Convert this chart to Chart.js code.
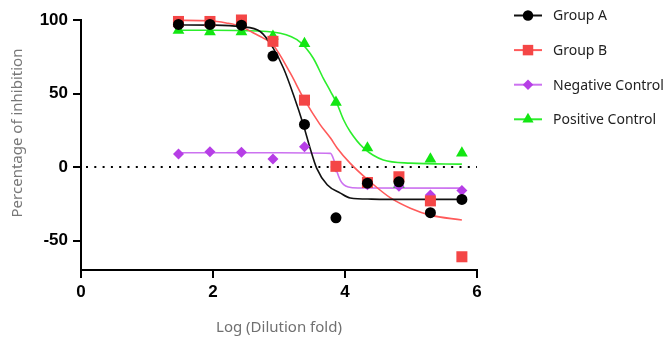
<!DOCTYPE html>
<html><head><meta charset="utf-8">
<script src="https://cdn.jsdelivr.net/npm/chart.js@4/dist/chart.umd.min.js"></script>
<style>html,body{margin:0;padding:0;background:#fff;}#wrap{width:667px;height:345px;position:relative;}</style>
</head><body><div id="wrap"><canvas id="c" width="667" height="345"></canvas></div>
<script>
// ---- data ----
const seriesNames = ['Group A', 'Group B', 'Negative Control', 'Positive Control'];
const logDilution = [1.477, 1.954, 2.431, 2.908, 3.386, 3.863, 4.340, 4.817, 5.294, 5.771];
const groupA = [97, 97, 96.5, 75.5, 29, -34.5, -11, -10, -31, -22];
const groupB = [99, 99, 100, 85.5, 45.5, 0.5, -10.5, -6.6, -23, -61];
const negativeControl = [8.8, 10.4, 10, 5.4, 13.8, 0, -12, -13, -19, -16];
const positiveControl = [93, 92, 92, 89, 84, 44, 13, -12, 5.4, 9.5];

// fitted curves
const fitAx = [1.477, 2.0, 2.41, 2.72, 2.91, 3.07, 3.22, 3.37, 3.47, 3.57, 3.73, 3.93, 4.08, 4.4, 5.0, 5.771];
const fitAy = [96.6, 96.5, 95.5, 92, 81, 67, 49, 28.6, 13, -0.7, -12, -17.7, -21, -21.8, -22, -22];
const fitBx = [1.477, 1.954, 2.2, 2.431, 2.6, 2.75, 2.91, 3.17, 3.37, 3.62, 3.78, 3.88, 4.08, 4.38, 4.69, 4.99, 5.29, 5.771];
const fitBy = [99.8, 99.5, 98, 95.5, 91.5, 88, 83, 64, 47, 29, 19.7, 13, 2.5, -10, -21, -28, -32.7, -36];
const fitNx = [1.477, 3.0, 3.78, 3.83, 3.88, 3.93, 3.98, 4.05, 4.2, 5.771];
const fitNy = [9.7, 9.7, 9.3, 5, -3.4, -9, -12, -13.6, -14.2, -14.3];
const fitPx = [1.477, 2.0, 2.431, 3.02, 3.32, 3.52, 3.67, 3.78, 3.88, 3.98, 4.08, 4.28, 4.58, 4.99, 5.771];
const fitPy = [93, 93, 92.8, 91, 85, 74, 60.5, 51.5, 43, 32, 24, 13, 4.8, 2.7, 2];

const xTicks = [0, 2, 4, 6];
const yTicks = [-50, 0, 50, 100];
const zeroLineX = [0, 6];

// ---- styles ----
const styles = [
  {marker: 'circle', fill: '#000000', line: '#111111', r: 5.5},
  {marker: 'rect', fill: '#F44646', line: '#FF5A5A', r: 7.8},
  {marker: 'rectRot', fill: '#B63EE6', line: '#CC72F0', r: 5.5},
  {marker: 'triangle', fill: '#12E612', line: '#2CEE2C', r: 6.8}
];
const pts = (xs, ys) => xs.map((x, i) => ({x: x, y: ys[i]}));
const pointSets = [groupA, groupB, negativeControl, positiveControl];
const fits = [[fitAx, fitAy], [fitBx, fitBy], [fitNx, fitNy], [fitPx, fitPy]];

const datasets = [];
pointSets.forEach((ys, i) => {
  const s = styles[i];
  datasets.push({
    label: seriesNames[i], data: pts(logDilution, ys), showLine: false,
    pointStyle: s.marker, pointRadius: s.r, pointHoverRadius: s.r,
    pointBackgroundColor: s.fill, pointBorderColor: s.fill, pointBorderWidth: 0,
    clip: false
  });
});
fits.forEach((f, i) => {
  const s = styles[i];
  datasets.push({
    label: seriesNames[i] + ' fit', data: pts(f[0], f[1]), showLine: true,
    borderColor: s.line, borderWidth: 1.6, pointRadius: 0, cubicInterpolationMode: 'monotone',
    fill: false, clip: false
  });
});
datasets.push({
  label: 'zero', data: zeroLineX.map(x => ({x: x, y: 0})), showLine: true,
  borderColor: '#000', borderWidth: 2, borderDash: [2, 6.3], borderDashOffset: -5, pointRadius: 0, fill: false
});

const legendPlugin = {
  id: 'sideLegend',
  afterDraw(chart) {
    const ctx = chart.ctx;
    ctx.save();
    seriesNames.forEach((name, i) => {
      const s = styles[i];
      const y = 15.5 + i * 34.6;
      ctx.strokeStyle = s.line; ctx.lineWidth = 2; ctx.setLineDash([]);
      ctx.beginPath(); ctx.moveTo(514, y); ctx.lineTo(542, y); ctx.stroke();
      ctx.fillStyle = s.fill;
      Chart.helpers.drawPoint(ctx, {pointStyle: s.marker, radius: s.r * 0.95, rotation: 0, borderWidth: 0}, 528, y);
      ctx.fillStyle = '#222';
      ctx.font = '14px "Noto Sans"';
      ctx.textBaseline = 'middle'; ctx.textAlign = 'left';
      ctx.fillText(name, 553, y + 1);
    });
    // y axis title
    ctx.translate(18, 133);
    ctx.rotate(-Math.PI / 2);
    ctx.fillStyle = '#777';
    ctx.font = '15px "Noto Sans"';
    ctx.textAlign = 'center'; ctx.textBaseline = 'middle';
    ctx.fillText('Percentage of inhibition', 0, 0);
    ctx.restore();
  }
};

new Chart(document.getElementById('c'), {
  type: 'scatter',
  data: {datasets: datasets},
  options: {
    responsive: false, animation: false, devicePixelRatio: 1,
    layout: {padding: {top: 20, right: 190, left: 0, bottom: 0}},
    plugins: {legend: {display: false}, tooltip: {enabled: false}},
    scales: {
      x: {
        type: 'linear', min: 0, max: 6,
        afterBuildTicks: (ax) => { ax.ticks = xTicks.map(v => ({value: v})); },
        afterFit: (ax) => { ax.height = 75; },
        grid: {display: true, drawOnChartArea: false, drawTicks: true, tickLength: 8, color: '#000', lineWidth: 2},
        border: {display: true, color: '#000', width: 2},
        ticks: {color: '#000', font: {family: '"Liberation Sans", Arial', size: 17, weight: 'bold'}, padding: 4, maxRotation: 0},
        title: {display: true, text: 'Log (Dilution fold)', color: '#707070', font: {family: '"Noto Sans"', size: 15}, padding: {top: 4, bottom: 8}}
      },
      y: {
        type: 'linear', min: -70, max: 100,
        afterBuildTicks: (ax) => { ax.ticks = yTicks.map(v => ({value: v})); },
        afterFit: (ax) => { ax.width = 81; },
        grid: {display: true, drawOnChartArea: false, drawTicks: true, tickLength: 8, color: '#000', lineWidth: 2},
        border: {display: true, color: '#000', width: 2},
        ticks: {color: '#000', font: {family: '"Liberation Sans", Arial', size: 17, weight: 'bold'}, padding: 5}
      }
    }
  },
  plugins: [legendPlugin]
});
</script>
</body></html>
